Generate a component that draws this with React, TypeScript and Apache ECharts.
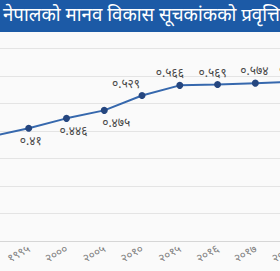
import React, { useEffect, useRef } from "react";
import * as echarts from "echarts";

const TITLE = "नेपालको मानव विकास सूचकांकको प्रवृत्ति";
const YEARS = [1990, 1995, 2000, 2005, 2010, 2015, 2016, 2017, 2018];
const HDI = [0.38, 0.41, 0.446, 0.475, 0.529, 0.566, 0.569, 0.574, 0.579];
const LABEL_POS = ["bottom", "bottom", "bottom", "bottom", "top", "top", "top", "top", "top"];
const LABEL_DX = [-16, 2, 7, 12, -16, -10, -5, -1, 0];

const DEV = "०१२३४५६७८९";
const toDev = (s: string) => s.replace(/[0-9]/g, (d) => DEV[Number(d)]);

const FONT = "'Noto Sans', 'Noto Sans Devanagari', sans-serif";
const SHIFT = 35;
const INNER_W = 347;

export default function App() {
  const ref = useRef<HTMLDivElement>(null);
  useEffect(() => {
    if (!ref.current) return;
    const chart = echarts.init(ref.current, undefined, { renderer: "svg" });
    chart.setOption({
      animation: false,
      backgroundColor: "#fafafa",
      grid: { left: 0, right: 0, top: 48.5, bottom: 30, containLabel: false },
      xAxis: {
        type: "category",
        data: YEARS.map((y) => toDev(String(y))),
        boundaryGap: true,
        axisLine: { lineStyle: { color: "#d6d6d6" } },
        axisTick: { show: false },
        axisLabel: {
          rotate: 30,
          color: "#808080",
          fontSize: 11.5,
          fontFamily: FONT,
          margin: 6,
          interval: 0,
        },
      },
      yAxis: {
        type: "value",
        min: 0,
        max: 0.7,
        interval: 0.1,
        axisLabel: { show: false },
        axisLine: { show: false },
        axisTick: { show: false },
        splitLine: { lineStyle: { color: "#e4e4e4" } },
      },
      series: [
        {
          type: "line",
          data: HDI.map((v, i) => ({
            value: v,
            label: {
              position: LABEL_POS[i],
              offset: [LABEL_DX[i], 0],
            },
          })),
          symbol: "circle",
          symbolSize: 7,
          lineStyle: { color: "#3668ad", width: 2 },
          itemStyle: { color: "#25467f" },
          label: {
            show: true,
            distance: 3,
            color: "#4a4a4a",
            fontSize: 12,
            fontFamily: FONT,
            formatter: (p: any) => toDev(String(p.value)),
          },
        },
      ],
      graphic: [
        {
          type: "rect",
          left: SHIFT,
          top: 0,
          shape: { width: 280, height: 32 },
          style: { fill: "#1c5aa6" },
          z: 100,
        },
        {
          type: "text",
          left: SHIFT + 3,
          top: 4,
          style: {
            text: TITLE,
            fill: "#ffffff",
            fontSize: 18.7,
            fontFamily: FONT,
          },
          z: 101,
        },
      ],
    });
    return () => chart.dispose();
  }, []);
  return (
    <div
      style={{
        position: "fixed",
        left: 0,
        top: 0,
        width: 280,
        height: 271,
        overflow: "hidden",
      }}
    >
      <div
        ref={ref}
        style={{ position: "absolute", left: -SHIFT, top: 0, width: INNER_W, height: 271 }}
      />
    </div>
  );
}
